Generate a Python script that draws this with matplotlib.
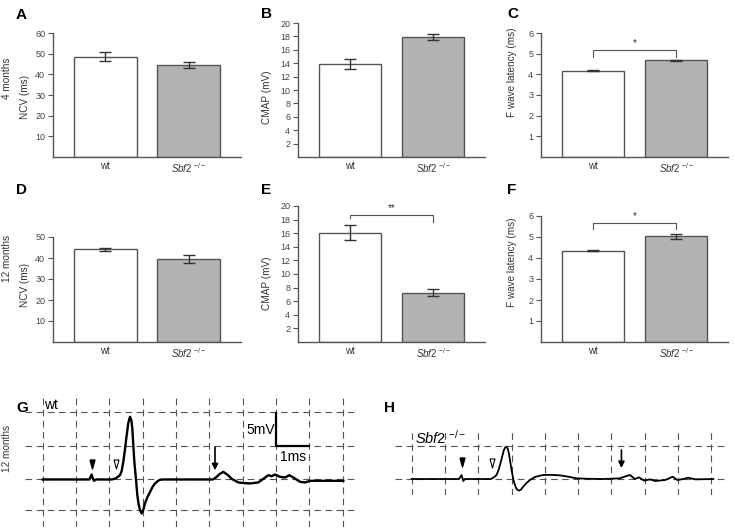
import numpy as np
import matplotlib.pyplot as plt

plt.rcParams['font.family'] = ['Liberation Sans', 'DejaVu Sans']
plt.rcParams['mathtext.fontset'] = 'custom'
plt.rcParams['mathtext.rm'] = 'Liberation Sans'
plt.rcParams['mathtext.it'] = 'Liberation Sans:italic'

# bar data (mean, sem)
groups = ['wt', r'$\mathit{Sbf2}^{\ \mathrm{-/-}}$']
ncv_4m = [48.6, 44.6]
ncv_4m_err = [2.0, 1.5]
cmap_4m = [13.9, 17.9]
cmap_4m_err = [0.8, 0.5]
fwave_4m = [4.17, 4.67]
fwave_4m_err = [0.03, 0.03]
ncv_12m = [44.2, 39.5]
ncv_12m_err = [0.8, 1.7]
cmap_12m = [16.1, 7.27]
cmap_12m_err = [1.15, 0.55]
fwave_12m = [4.35, 5.03]
fwave_12m_err = [0.01, 0.12]

ncv_4m_ticks = [10, 20, 30, 40, 50, 60]
ncv_12m_ticks = [10, 20, 30, 40, 50]
cmap_ticks = [2, 4, 6, 8, 10, 12, 14, 16, 18, 20]
fwave_ticks = [1, 2, 3, 4, 5, 6]

# significance brackets: bar level, left end, right end, label
sig_c = [5.17, 4.85, 4.85, '*']
sig_e = [18.7, 18.2, 17.6, '**']
sig_f = [5.65, 5.37, 5.37, '*']

# example traces (time in ms, amplitude in mV)
wt_t = [0, 1.40, 1.47, 1.50, 1.54, 1.60, 2.05, 2.12, 2.20, 2.32, 2.37, 2.42, 2.47, 2.52,
        2.57, 2.62, 2.66, 2.69, 2.72, 2.75, 2.80, 2.84, 2.88, 2.92, 2.97, 3.02, 3.07,
        3.15, 3.22, 3.30, 3.37, 3.45, 3.52, 3.60, 5.10, 5.20, 5.30, 5.42, 5.55, 5.67,
        5.87, 6.05, 6.22, 6.47, 6.62, 6.77, 6.87, 6.97, 7.12, 7.27, 7.40, 7.52, 7.72,
        7.87, 8.02, 8.32, 9.02]
wt_v = [0, 0, 0.75, 0.2, -0.2, 0, 0, 0.05, 0.2, 0.65, 1.3, 2.7, 4.6, 6.7,
        8.6, 9.5, 9.0, 7.7, 5.2, 2.7, 0, -2.4, -3.8, -4.65, -5.15, -4.6, -3.6,
        -2.6, -1.9, -1.1, -0.6, -0.25, -0.05, 0, 0, 0.3, 0.8, 1.15, 0.7, 0.1,
        -0.45, -0.55, -0.6, -0.45, 0.1, 0.65, 0.5, 0.75, 0.4, 0.3, 0.65, 0.3, -0.35,
        -0.45, -0.2, -0.2, -0.2]
ko_t = [0, 1.42, 1.50, 1.55, 1.60, 2.38, 2.48, 2.55, 2.62, 2.68, 2.73, 2.77, 2.81, 2.85,
        2.89, 2.92, 2.96, 3.00, 3.04, 3.07, 3.11, 3.15, 3.22, 3.28, 3.35, 3.45, 3.55,
        3.70, 3.85, 3.95, 4.20, 4.45, 4.70, 4.95, 5.35, 5.75, 6.25, 6.45, 6.56, 6.70,
        6.83, 6.98, 7.16, 7.31, 7.61, 7.84, 7.98, 8.16, 8.31, 8.51, 9.06]
ko_v = [0, 0, 0.6, -0.3, 0, 0, 0.3, 0.6, 1.5, 2.6, 3.6, 4.35, 4.75, 4.85,
        4.5, 3.85, 2.6, 1.35, 0.3, -0.4, -1.0, -1.5, -1.75, -1.6, -1.15, -0.6, -0.15,
        0.3, 0.5, 0.6, 0.62, 0.55, 0.35, 0.1, 0.03, 0, 0.1, 0.45, 0.6, 0,
        0.25, -0.25, -0.05, -0.3, -0.15, 0.35, -0.15, 0, 0.2, -0.05, 0]

# markers: stimulus (filled), M wave onset (open), F wave (arrow)
wt_stim = (1.49, 2.3)
wt_onset = (2.19, 2.3)
wt_fwave = (5.17, 4.9, 1.4)
ko_stim = (1.5, 2.6)
ko_onset = (2.42, 2.4)
ko_fwave = (6.3, 4.35, 1.65)

W, H = 735, 530
fig = plt.figure(figsize=(W / 100, H / 100), dpi=100)


def px_axes(l, t, r, b):
    return fig.add_axes([l / W, 1 - b / H, (r - l) / W, (b - t) / H])


def bar_panel(rect, vals, errs, ticks, sig=None):
    ax = px_axes(*rect)
    x = np.arange(len(vals))
    ax.bar(x, vals, width=0.75, color=['white', '#b3b3b3'],
           edgecolor='#555555', linewidth=1, zorder=2)
    ax.errorbar(x, vals, yerr=errs, fmt='none', ecolor='#333333',
                elinewidth=1, capsize=4.5, capthick=1, zorder=3)
    ax.set_xlim(-0.625, 1.625)
    ax.set_ylim(0, ticks[-1])
    ax.set_yticks(ticks)
    ax.set_xticks(x)
    ax.set_xticklabels(groups)
    for s in ['top', 'right']:
        ax.spines[s].set_visible(False)
    for s in ['left', 'bottom']:
        ax.spines[s].set_color('#555555')
        ax.spines[s].set_linewidth(1)
    ax.tick_params(axis='x', length=0, pad=3, labelsize=7, labelcolor='#333333')
    ax.tick_params(axis='y', length=3.6, width=0.8, pad=2, labelsize=6.5,
                   color='#555555', labelcolor='#444444')
    if sig is not None:
        top, l_end, r_end, label = sig
        ax.plot([0, 0, 1, 1], [l_end, top, top, r_end], color='#555555',
                lw=0.8, clip_on=False)
        ax.text(0.5, top + (ticks[-1] * 0.015), label, ha='center', va='bottom',
                fontsize=7, color='#333333')
    return ax


bar_panel((53, 33, 241, 157), ncv_4m, ncv_4m_err, ncv_4m_ticks)
bar_panel((298, 23, 485, 157), cmap_4m, cmap_4m_err, cmap_ticks)
bar_panel((541, 33, 728, 157), fwave_4m, fwave_4m_err, fwave_ticks, sig_c)
bar_panel((53, 237, 241, 342), ncv_12m, ncv_12m_err, ncv_12m_ticks)
bar_panel((298, 206, 485, 342), cmap_12m, cmap_12m_err, cmap_ticks, sig_e)
bar_panel((541, 216, 728, 342), fwave_12m, fwave_12m_err, fwave_ticks, sig_f)


def ftext(x, y, s, **kw):
    fig.text(x / W, 1 - y / H, s, **kw)


# y labels
for x, y, s in [(25, 97, 'NCV (ms)'), (267, 97, 'CMAP (mV)'),
                (512, 72, 'F wave latency (ms)'), (25, 285, 'NCV (ms)'),
                (267, 283, 'CMAP (mV)'), (512, 262, 'F wave latency (ms)')]:
    ftext(x, y, s, rotation=90, ha='center', va='center', fontsize=7.2, color='#333333')
for y in [(78, '4 months'), (259, '12 months'), (448, '12 months')]:
    ftext(7, y[0], y[1], rotation=90, ha='center', va='center', fontsize=7.2, color='#333333')

# panel letters
for x, y, s in [(16, 15, 'A'), (261, 14, 'B'), (507, 14, 'C'), (16, 190, 'D'),
                (261, 190, 'E'), (507, 190, 'F'), (16, 408, 'G'), (384, 408, 'H')]:
    ftext(x, y, s, ha='left', va='center', fontsize=11, fontweight='bold')

tri = [(-0.55, 1.0), (0.55, 1.0), (0.0, -1.0), (-0.55, 1.0)]
grid_kw = dict(color='#555555', lw=0.8, linestyle=(0, (6, 4)), zorder=1)


def trace_panel(rect, xlim, ylim, hlines, t, v, stim, onset, fwave, lw):
    ax = px_axes(*rect)
    ax.set_xlim(*xlim)
    ax.set_ylim(*ylim)
    ax.axis('off')
    for k in range(10):
        ax.axvline(k, **grid_kw)
    for h in hlines:
        ax.axhline(h, **grid_kw)
    ax.plot(t, v, color='black', lw=lw, zorder=3, solid_joinstyle='round')
    ax.plot(*stim, marker=tri, ms=6.5, color='black', zorder=4)
    ax.plot(*onset, marker=tri, ms=6.5, mfc='white', mec='black', mew=0.8, zorder=4)
    ax.annotate('', xy=(fwave[0], fwave[2]), xytext=(fwave[0], fwave[1]),
                arrowprops=dict(arrowstyle='-|>', color='black', lw=1.2,
                                mutation_scale=9, shrinkA=0, shrinkB=0), zorder=4)
    return ax


axg = trace_panel((25, 395, 358, 527), (-0.53, 9.46), (-7.2, 12.8), [-4.6, 0, 5, 10.2],
                  wt_t, wt_v, wt_stim, wt_onset, wt_fwave, 1.7)
axg.plot([7, 7, 8], [10.1, 5, 5], color='black', lw=1.6, zorder=4)
axg.text(6.97, 7.5, '5mV', ha='right', va='center', fontsize=10)
axg.text(7.5, 3.4, '1ms', ha='center', va='center', fontsize=10)
axg.text(0.03, 11.3, 'wt', ha='left', va='center', fontsize=10)

axh = trace_panel((395, 430, 728, 495), (-0.5, 9.5), (-2.4, 7.36), [0, 5],
                  ko_t, ko_v, ko_stim, ko_onset, ko_fwave, 1.3)
axh.text(0.1, 6.2, r'$\mathit{Sbf2}^{\ \mathrm{-/-}}$', ha='left', va='center', fontsize=10.5)

fig.savefig('out.png', dpi=100)
